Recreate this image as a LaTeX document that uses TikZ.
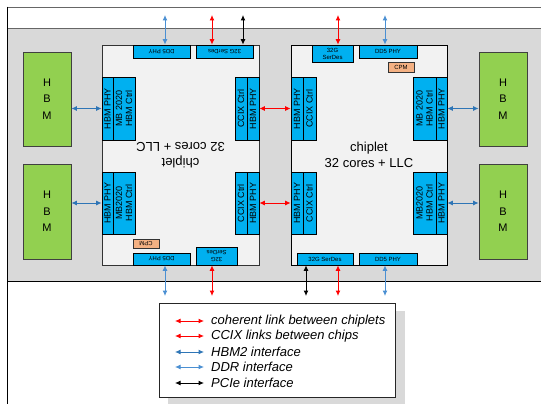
\documentclass[tikz,border=0pt]{standalone}
\usepackage{fontspec}
\setmainfont{Liberation Sans}
\usetikzlibrary{arrows.meta}
\definecolor{bandgray}{HTML}{D9D9D9}
\definecolor{chipgray}{HTML}{F2F2F2}
\definecolor{blkblue}{HTML}{00B0F0}
\definecolor{hbmgreen}{HTML}{92D050}
\definecolor{cpmpeach}{HTML}{F4B183}
\definecolor{hbmblue}{HTML}{2E75B6}
\definecolor{ddrblue}{HTML}{4A8FD2}
\definecolor{framegray}{HTML}{666666}
\newcommand\myblk[7]{\node[#2, minimum width={(#5-#3)*1pt}, minimum height={(#6-#4)*1pt}] (#1) at ({(#3+#5)/2},{(#4+#6)/2}) {#7};}
\newcommand\myrblk[7]{\node[#2, rotate=90, minimum width={(#6-#4)*1pt}, minimum height={(#5-#3)*1pt}] (#1) at ({(#3+#5)/2},{(#4+#6)/2}) {#7};}
\tikzset{
  blk/.style={draw=black, line width=0.6pt, fill=blkblue, inner sep=0pt, align=center, font=\fontsize{9}{10}\selectfont},
  sblk/.style={blk, font=\fontsize{6}{7}\selectfont},
  cpmblk/.style={draw=black!80, line width=0.6pt, fill=cpmpeach, inner sep=0pt, font=\fontsize{6}{7}\selectfont},
  chipbox/.style={draw=black, line width=0.9pt, fill=chipgray, inner sep=0pt, align=center, font=\fontsize{13}{16}\selectfont},
  hbmbox/.style={draw=black!75, line width=0.7pt, fill=hbmgreen, inner sep=0pt, align=center, font=\fontsize{11}{16.7}\selectfont},
  legbox/.style={draw=black!85, line width=0.8pt, fill=white, inner sep=0pt},
  arr/.style={line width=1pt, {Latex[length=5.5pt,width=5pt]}-{Latex[length=5.5pt,width=5pt]}},
  hbmarr/.style={arr, draw=hbmblue, fill=hbmblue},
  ddrarr/.style={arr, draw=ddrblue, fill=ddrblue},
  redarr/.style={arr, draw=red, fill=red},
  blkarr/.style={arr, draw=black, fill=black},
  legtext/.style={anchor=west, inner sep=0pt, font=\fontsize{13}{15}\selectfont\itshape}
}
\begin{document}
\begin{tikzpicture}[x=1pt,y=-1pt]
\useasboundingbox (0,0) rectangle (541,404);
% frame and band
\fill[bandgray] (7.5,28) rectangle (541,281);
\draw[framegray, line width=0.8pt] (7,7) -- (541,7);
\draw[framegray, line width=0.8pt] (7,28) -- (541,28);
\draw[black, line width=0.9pt] (7,281) -- (541,281);
\draw[black, line width=0.9pt] (7,6.6) -- (7,404);
% HBM stacks
\myblk{lhbmA}{hbmbox}{23}{52}{71}{146}{H\\B\\M}
\myblk{lhbmB}{hbmbox}{23}{164}{71}{259}{H\\B\\M}
\myblk{rhbmA}{hbmbox}{479}{52}{527}{146}{H\\B\\M}
\myblk{rhbmB}{hbmbox}{479}{164}{527}{259}{H\\B\\M}
% chiplets
\myblk{lchip}{chipbox, draw=black!80, rotate=180}{102}{45}{259}{265}{chiplet\\32 cores + LLC}
\myblk{rchip}{chipbox}{291}{45}{447}{265}{chiplet\\32 cores + LLC}
% left chiplet blocks
\myrblk{lhpA}{blk}{102}{77}{113}{140}{HBM PHY}
\myrblk{lhcA}{blk}{113}{77}{135}{140}{MB 2020\\HBM Ctrl}
\myrblk{lhpB}{blk}{102}{172}{113}{234}{HBM PHY}
\myrblk{lhcB}{blk}{113}{172}{135}{234}{MB2020\\HBM Ctrl}
\myrblk{lccA}{blk}{235}{77}{247}{140}{CCIX Ctrl}
\myrblk{lcpA}{blk}{247}{77}{259}{140}{HBM PHY}
\myrblk{lccB}{blk}{235}{172}{247}{234}{CCIX Ctrl}
\myrblk{lcpB}{blk}{247}{172}{259}{234}{HBM PHY}
\myblk{ltd}{sblk, rotate=180}{133}{45}{190}{58}{DD5 PHY}
\myblk{lts}{sblk, rotate=180}{196}{45}{253}{58}{32G SerDes}
\myblk{lbd}{sblk, rotate=180}{133}{253}{190}{265}{DD5 PHY}
\myblk{lbs}{sblk, rotate=180}{196}{247}{237}{265}{32G\\SerDes}
\myblk{lcpm}{cpmblk, rotate=180}{133}{239}{159}{248}{CPM}
% right chiplet blocks
\myrblk{rhpA}{blk}{291}{77}{303}{140}{HBM PHY}
\myrblk{rccA}{blk}{303}{77}{316}{140}{CCIX Ctrl}
\myrblk{rhpB}{blk}{291}{172}{303}{234}{HBM PHY}
\myrblk{rccB}{blk}{303}{172}{316}{234}{CCIX Ctrl}
\myrblk{rhcA}{blk}{413}{77}{436}{140}{MB 2020\\HBM Ctrl}
\myrblk{rhqA}{blk}{436}{77}{447}{140}{HBM PHY}
\myrblk{rhcB}{blk}{413}{172}{436}{234}{MB2020\\HBM Ctrl}
\myrblk{rhqB}{blk}{436}{172}{447}{234}{HBM PHY}
\myblk{rts}{sblk}{312}{45}{353}{62}{32G\\SerDes}
\myblk{rtd}{sblk}{359}{45}{417}{58}{DD5 PHY}
\myblk{rcpm}{cpmblk}{388}{62}{414}{72}{CPM}
\myblk{rbs}{sblk}{297}{253}{353}{265}{32G SerDes}
\myblk{rbd}{sblk}{359}{253}{417}{265}{DD5 PHY}
% HBM links
\draw[hbmarr] (lhbmA.east |- lhpA.north) -- (lhpA.north);
\draw[hbmarr] (lhbmB.east |- lhpB.north) -- (lhpB.north);
\draw[hbmarr] (rhqA.south) -- (rhbmA.west |- rhqA.south);
\draw[hbmarr] (rhqB.south) -- (rhbmB.west |- rhqB.south);
% coherent links between chiplets
\draw[redarr] (lcpA.south) -- (rhpA.north);
\draw[redarr] (lcpB.south) -- (rhpB.north);
% top links
\coordinate (tA) at (165,15);
\coordinate (tB) at (212,15);
\coordinate (tC) at (243,15);
\coordinate (tD) at (338,15);
\coordinate (tE) at (385,15);
\draw[ddrarr] (tA) -- (tA |- ltd.south);
\draw[redarr] (tB) -- (tB |- lts.south);
\draw[blkarr] (tC) -- (tC |- lts.south);
\draw[redarr] (tD) -- (tD |- rts.north);
\draw[ddrarr] (tE) -- (tE |- rtd.north);
% bottom links
\coordinate (bA) at (165,296);
\coordinate (bB) at (212,296);
\coordinate (bC) at (306,296);
\coordinate (bD) at (338,296);
\coordinate (bE) at (385,296);
\draw[ddrarr] (bA |- lbd.north) -- (bA);
\draw[redarr] (bB |- lbs.north) -- (bB);
\draw[blkarr] (bC |- rbs.south) -- (bC);
\draw[redarr] (bD |- rbs.south) -- (bD);
\draw[ddrarr] (bE |- rbd.south) -- (bE);
% legend
\fill[bandgray] (168,311) rectangle (405,405);
\myblk{legend}{legbox}{159}{303}{395}{397}{}
\coordinate (lgA1) at (175,321); \coordinate (lgA2) at (204,321);
\coordinate (lgB1) at (175,336); \coordinate (lgB2) at (204,336);
\coordinate (lgC1) at (175,352); \coordinate (lgC2) at (204,352);
\coordinate (lgD1) at (175,367); \coordinate (lgD2) at (204,367);
\coordinate (lgE1) at (175,383); \coordinate (lgE2) at (204,383);
\draw[redarr] (lgA1) -- (lgA2);
\draw[redarr] (lgB1) -- (lgB2);
\draw[hbmarr] (lgC1) -- (lgC2);
\draw[ddrarr] (lgD1) -- (lgD2);
\draw[blkarr] (lgE1) -- (lgE2);
\node[legtext] (lgtA) at (211,321) {coherent link between chiplets};
\node[legtext] (lgtB) at (211,336) {CCIX links between chips};
\node[legtext] (lgtC) at (211,352) {HBM2 interface};
\node[legtext] (lgtD) at (211,367) {DDR interface};
\node[legtext] (lgtE) at (211,383) {PCIe interface};
\end{tikzpicture}
\end{document}
